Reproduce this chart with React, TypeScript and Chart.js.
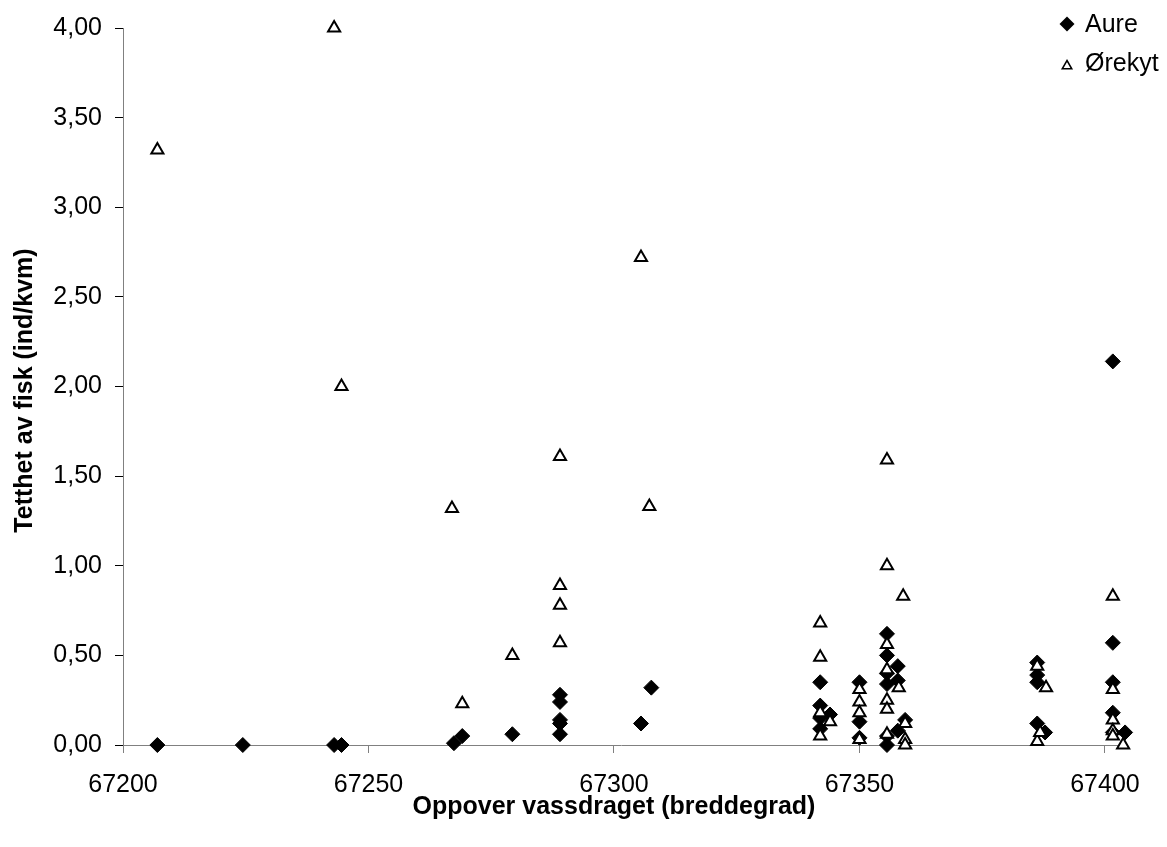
import React, { useEffect, useRef } from "react";
import { Chart, registerables } from "chart.js";

Chart.register(...registerables);

const FONT = "'Liberation Sans', Arial, sans-serif";

// Aure (brown trout) — latitude position and density
const aureX = [
  67207, 67224.4, 67243, 67244.5, 67267.4, 67269.1, 67279.3,
  67289, 67289, 67289, 67289, 67289,
  67305.5, 67307.6,
  67342, 67342, 67342, 67342, 67344,
  67350, 67350, 67350,
  67355.6, 67355.6, 67355.6, 67355.6, 67355.6, 67355.6,
  67357.8, 67357.8, 67359.3, 67357.8,
  67386.2, 67386.2, 67386.2, 67386.2, 67387.8,
  67401.6, 67401.6, 67401.6, 67401.6, 67401.6, 67404.1,
];
const aureY = [
  0.0, 0.0, 0.0, 0.0, 0.01, 0.05, 0.06,
  0.28, 0.24, 0.14, 0.12, 0.06,
  0.12, 0.32,
  0.35, 0.22, 0.15, 0.09, 0.17,
  0.35, 0.13, 0.04,
  0.62, 0.5, 0.4, 0.34, 0.05, 0.0,
  0.44, 0.36, 0.14, 0.08,
  0.46, 0.39, 0.35, 0.12, 0.07,
  2.14, 0.57, 0.35, 0.18, 0.07, 0.07,
];

// Ørekyt (minnow)
const orekytX = [
  67207, 67243, 67244.5, 67267, 67269.1, 67279.3,
  67289, 67289, 67289, 67289,
  67305.5, 67307.2,
  67342, 67342, 67342, 67342, 67344,
  67350, 67350, 67350, 67350,
  67355.6, 67355.6, 67355.6, 67355.6, 67355.6, 67355.6, 67355.6,
  67358.9, 67358, 67359.3, 67359.3, 67359.3,
  67386.2, 67386.2, 67386.8, 67388,
  67401.6, 67401.6, 67401.6, 67401.6, 67401.6, 67403.7,
];
const orekytY = [
  3.32, 4.0, 2.0, 1.32, 0.23, 0.5,
  1.61, 0.89, 0.78, 0.57,
  2.72, 1.33,
  0.68, 0.49, 0.18, 0.05, 0.13,
  0.31, 0.24, 0.18, 0.03,
  1.59, 1.0, 0.56, 0.42, 0.25, 0.2, 0.06,
  0.83, 0.32, 0.12, 0.03, 0.0,
  0.44, 0.02, 0.07, 0.32,
  0.83, 0.31, 0.14, 0.08, 0.05, 0.0,
];

const xTicks = [67200, 67250, 67300, 67350, 67400];
const yTicks = [0, 0.5, 1, 1.5, 2, 2.5, 3, 3.5, 4];
const seriesNames = ["Aure", "Ørekyt"];
const xTitle = "Oppover vassdraget (breddegrad)";
const yTitle = "Tetthet av fisk (ind/kvm)";

function pts(xs: number[], ys: number[]) {
  return xs.map((x, i) => ({ x, y: ys[i] }));
}

function drawDiamond(ctx: CanvasRenderingContext2D, x: number, y: number, r: number) {
  ctx.beginPath();
  ctx.moveTo(x - r, y);
  ctx.lineTo(x, y - r);
  ctx.lineTo(x + r, y);
  ctx.lineTo(x, y + r);
  ctx.closePath();
  ctx.fillStyle = "#000";
  ctx.fill();
}

function drawTriangle(ctx: CanvasRenderingContext2D, x: number, y: number, r: number, lw: number) {
  ctx.beginPath();
  for (let k = 0; k < 3; k++) {
    const a = (k * 2 * Math.PI) / 3;
    const px = x + Math.sin(a) * r;
    const py = y - Math.cos(a) * r;
    if (k === 0) ctx.moveTo(px, py);
    else ctx.lineTo(px, py);
  }
  ctx.closePath();
  ctx.fillStyle = "#fff";
  ctx.fill();
  ctx.lineWidth = lw;
  ctx.strokeStyle = "#000";
  ctx.stroke();
}

const overlayPlugin = {
  id: "overlay",
  afterDraw(chart: any) {
    const ctx: CanvasRenderingContext2D = chart.ctx;
    const xs = chart.scales.x;
    const area = chart.chartArea;
    ctx.save();
    // axis titles
    ctx.fillStyle = "#000";
    ctx.font = `bold 25px ${FONT}`;
    ctx.textAlign = "center";
    ctx.textBaseline = "middle";
    const cx = (xs.getPixelForValue(xTicks[0]) + xs.getPixelForValue(xTicks[xTicks.length - 1])) / 2;
    ctx.fillText(xTitle, cx, 807);
    ctx.save();
    ctx.translate(25, (area.top + area.bottom) / 2 + 4);
    ctx.rotate(-Math.PI / 2);
    ctx.fillText(yTitle, 0, 0);
    ctx.restore();
    // legend
    drawDiamond(ctx, 1067, 24, 7.5);
    drawTriangle(ctx, 1067, 66, 5.5, 1.5);
    ctx.fillStyle = "#000";
    ctx.font = `25px ${FONT}`;
    ctx.textAlign = "left";
    ctx.textBaseline = "middle";
    ctx.fillText(seriesNames[0], 1085, 25);
    ctx.fillText(seriesNames[1], 1085, 64);
    ctx.restore();
  },
};

export default function App() {
  const ref = useRef<HTMLCanvasElement>(null);
  useEffect(() => {
    if (!ref.current) return;
    const chart = new Chart(ref.current, {
      type: "scatter",
      data: {
        datasets: [
          {
            label: seriesNames[0],
            data: pts(aureX, aureY),
            pointStyle: "rectRot",
            pointRadius: 7.5,
            borderWidth: 1,
            backgroundColor: "#000",
            borderColor: "#000",
            order: 2,
            clip: false as any,
          },
          {
            label: seriesNames[1],
            data: pts(orekytX, orekytY),
            pointStyle: "triangle",
            pointRadius: 7,
            borderWidth: 2,
            backgroundColor: "#fff",
            borderColor: "#000",
            order: 1,
            clip: false as any,
          },
        ],
      },
      options: {
        responsive: false,
        animation: false,
        layout: { padding: { top: 28, right: 47.3, left: 0, bottom: 0 } },
        plugins: {
          legend: { display: false },
          tooltip: { enabled: false },
          title: { display: false },
        },
        scales: {
          x: {
            type: "linear",
            min: 67200,
            max: 67403,
            afterFit: (s: any) => {
              s.height = 102;
            },
            afterBuildTicks: (s: any) => {
              s.ticks = xTicks.map((v) => ({ value: v }));
            },
            ticks: {
              callback: (v: any) => String(v),
              font: { family: FONT, size: 25 },
              color: "#000",
              padding: 17,
              maxRotation: 0,
              autoSkip: false,
            },
            grid: {
              display: true,
              drawOnChartArea: false,
              tickLength: 8,
              tickColor: "#808080",
            },
            border: { display: true, color: "#808080", width: 1 },
          },
          y: {
            type: "linear",
            min: 0,
            max: 4,
            afterFit: (s: any) => {
              s.width = 123;
            },
            afterBuildTicks: (s: any) => {
              s.ticks = yTicks.map((v) => ({ value: v }));
            },
            ticks: {
              callback: (v: any) => Number(v).toFixed(2).replace(".", ","),
              font: { family: FONT, size: 25 },
              color: "#000",
              padding: 13,
            },
            grid: {
              display: true,
              drawOnChartArea: false,
              tickLength: 8,
              tickColor: "#000",
            },
            border: { display: true, color: "#808080", width: 1 },
          },
        },
      },
      plugins: [overlayPlugin],
    });
    return () => chart.destroy();
  }, []);
  return (
    <div style={{ position: "fixed", left: 0, top: 0, width: 1167, height: 847, background: "#fff" }}>
      <canvas ref={ref} width={1167} height={847} style={{ display: "block" }} />
    </div>
  );
}
